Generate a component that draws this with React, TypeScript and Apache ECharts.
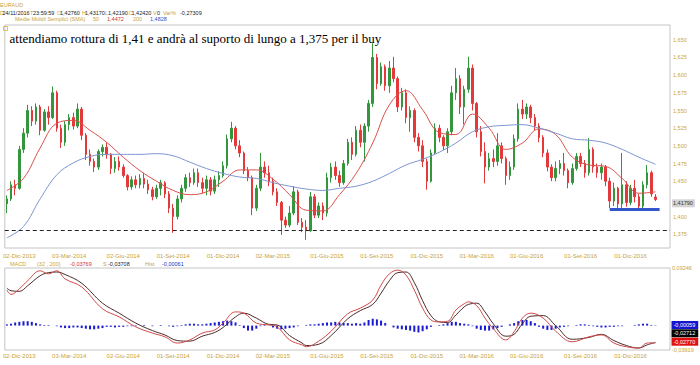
import React, { useEffect, useRef } from 'react';
import * as echarts from 'echarts';

// [open, close, low, high]
const candles: number[][] = [
  [1.418,1.425,1.405,1.430],[1.425,1.445,1.422,1.450],[1.445,1.440,1.430,1.452],[1.440,1.495,1.438,1.500],
  [1.495,1.518,1.490,1.525],[1.518,1.550,1.512,1.558],[1.550,1.535,1.528,1.556],[1.535,1.555,1.530,1.560],
  [1.555,1.522,1.515,1.558],[1.522,1.548,1.520,1.552],[1.548,1.540,1.530,1.556],[1.540,1.575,1.538,1.584],
  [1.575,1.525,1.520,1.578],[1.525,1.505,1.497,1.530],[1.505,1.530,1.500,1.535],[1.530,1.540,1.522,1.545],
  [1.540,1.528,1.523,1.547],[1.528,1.552,1.525,1.560],[1.552,1.515,1.508,1.555],[1.515,1.488,1.480,1.518],
  [1.488,1.478,1.472,1.495],[1.478,1.470,1.463,1.482],[1.470,1.492,1.466,1.495],[1.492,1.498,1.485,1.502],
  [1.498,1.488,1.482,1.505],[1.488,1.468,1.460,1.490],[1.468,1.478,1.462,1.484],[1.478,1.470,1.465,1.485],
  [1.470,1.458,1.455,1.474],[1.458,1.442,1.437,1.460],[1.442,1.452,1.438,1.457],[1.452,1.445,1.440,1.458],
  [1.445,1.454,1.440,1.460],[1.454,1.446,1.440,1.462],[1.446,1.438,1.432,1.452],[1.438,1.428,1.423,1.442],
  [1.428,1.440,1.425,1.445],[1.440,1.448,1.430,1.452],[1.448,1.432,1.426,1.450],[1.432,1.412,1.405,1.436],
  [1.412,1.400,1.377,1.418],[1.400,1.425,1.396,1.430],[1.425,1.440,1.420,1.445],[1.440,1.455,1.435,1.460],
  [1.455,1.448,1.442,1.462],[1.448,1.462,1.445,1.468],[1.462,1.448,1.442,1.468],[1.448,1.440,1.433,1.455],
  [1.440,1.452,1.430,1.458],[1.452,1.436,1.430,1.456],[1.436,1.452,1.432,1.458],[1.452,1.458,1.442,1.464],
  [1.458,1.472,1.455,1.478],[1.472,1.510,1.468,1.516],[1.510,1.525,1.505,1.534],[1.525,1.500,1.495,1.528],
  [1.500,1.490,1.484,1.508],[1.490,1.465,1.460,1.492],[1.465,1.455,1.450,1.470],[1.455,1.412,1.402,1.458],
  [1.412,1.440,1.408,1.445],[1.440,1.470,1.436,1.490],[1.470,1.462,1.455,1.478],[1.462,1.450,1.443,1.472],
  [1.450,1.435,1.430,1.455],[1.435,1.420,1.415,1.440],[1.420,1.395,1.374,1.422],[1.395,1.388,1.384,1.400],
  [1.388,1.405,1.385,1.415],[1.405,1.435,1.402,1.443],[1.435,1.392,1.388,1.438],[1.392,1.385,1.378,1.398],
  [1.385,1.380,1.367,1.395],[1.380,1.428,1.378,1.435],[1.428,1.402,1.398,1.432],[1.402,1.415,1.398,1.420],
  [1.415,1.405,1.395,1.420],[1.405,1.455,1.400,1.462],[1.455,1.470,1.448,1.476],[1.470,1.458,1.452,1.478],
  [1.458,1.448,1.442,1.465],[1.448,1.475,1.445,1.480],[1.475,1.505,1.472,1.510],[1.505,1.488,1.480,1.512],
  [1.488,1.522,1.485,1.528],[1.522,1.505,1.498,1.530],[1.505,1.528,1.478,1.532],[1.528,1.560,1.520,1.565],
  [1.560,1.625,1.555,1.645],[1.625,1.588,1.580,1.630],[1.588,1.612,1.585,1.618],[1.612,1.585,1.578,1.615],
  [1.585,1.610,1.575,1.620],[1.610,1.595,1.590,1.626],[1.595,1.555,1.548,1.598],[1.555,1.575,1.550,1.582],
  [1.575,1.540,1.532,1.580],[1.540,1.550,1.520,1.556],[1.550,1.512,1.505,1.553],[1.512,1.500,1.492,1.518],
  [1.500,1.478,1.470,1.508],[1.478,1.450,1.438,1.482],[1.450,1.490,1.448,1.495],[1.490,1.525,1.488,1.532],
  [1.525,1.512,1.505,1.530],[1.512,1.500,1.494,1.515],[1.500,1.520,1.490,1.525],[1.520,1.575,1.515,1.585],
  [1.575,1.595,1.565,1.610],[1.595,1.555,1.545,1.600],[1.555,1.580,1.530,1.585],[1.580,1.610,1.575,1.626],
  [1.610,1.560,1.550,1.615],[1.560,1.520,1.512,1.562],[1.520,1.492,1.485,1.528],[1.492,1.470,1.447,1.505],
  [1.470,1.482,1.465,1.490],[1.482,1.478,1.470,1.495],[1.478,1.500,1.472,1.518],[1.500,1.482,1.475,1.505],
  [1.482,1.458,1.445,1.485],[1.458,1.470,1.452,1.478],[1.470,1.510,1.466,1.516],[1.510,1.552,1.506,1.560],
  [1.552,1.545,1.538,1.565],[1.545,1.555,1.538,1.560],[1.555,1.540,1.532,1.558],[1.540,1.528,1.522,1.545],
  [1.528,1.512,1.505,1.532],[1.512,1.490,1.484,1.515],[1.490,1.470,1.464,1.495],[1.470,1.455,1.450,1.474],
  [1.455,1.468,1.450,1.478],[1.468,1.475,1.460,1.480],[1.475,1.465,1.458,1.490],[1.465,1.448,1.440,1.468],
  [1.448,1.468,1.445,1.475],[1.468,1.485,1.465,1.490],[1.485,1.475,1.470,1.490],[1.475,1.462,1.455,1.480],
  [1.462,1.495,1.458,1.511],[1.495,1.470,1.462,1.498],[1.470,1.462,1.455,1.475],[1.462,1.470,1.452,1.475],
  [1.470,1.450,1.443,1.473],[1.450,1.422,1.412,1.455],[1.422,1.440,1.415,1.448],[1.440,1.418,1.411,1.442],
  [1.418,1.445,1.410,1.490],[1.445,1.420,1.414,1.450],[1.420,1.440,1.416,1.445],[1.440,1.428,1.420,1.452],
  [1.428,1.415,1.410,1.432],[1.415,1.445,1.412,1.450],[1.445,1.462,1.440,1.473],[1.462,1.432,1.428,1.465],
  [1.4276,1.4242,1.4219,1.4317],
];

// [candle index, value]
const sma50: number[][] = [
  [0,1.437],[4,1.454],[8,1.497],[12,1.532],[16,1.536],[20,1.522],[24,1.505],[28,1.484],[32,1.465],
  [36,1.450],[40,1.437],[44,1.431],[48,1.435],[52,1.450],[56,1.466],[60,1.466],[64,1.453],[68,1.431],
  [72,1.409],[76,1.408],[80,1.431],[84,1.461],[88,1.504],[92,1.558],[96,1.578],[100,1.551],[104,1.519],
  [108,1.516],[112,1.545],[116,1.525],[120,1.495],[124,1.504],[128,1.524],[132,1.516],[136,1.484],
  [140,1.473],[144,1.471],[148,1.454],[152,1.433],[156,1.435],
];
const sma200: number[][] = [
  [0,1.370],[4,1.386],[8,1.425],[12,1.459],[16,1.476],[20,1.485],[24,1.488],[28,1.488],[32,1.488],
  [36,1.489],[40,1.486],[44,1.477],[48,1.468],[52,1.461],[56,1.456],[60,1.454],[64,1.448],[68,1.443],
  [72,1.439],[76,1.437],[80,1.440],[84,1.443],[88,1.450],[92,1.461],[96,1.473],[100,1.481],[104,1.491],
  [108,1.504],[112,1.520],[116,1.527],[120,1.529],[124,1.530],[128,1.525],[132,1.518],[136,1.510],
  [140,1.508],[144,1.504],[148,1.495],[152,1.484],[156,1.474],
];
const macdLine: number[][] = [
  [0,0.057],[1,0.050],[3,0.059],[5,0.072],[8,0.088],[10,0.083],[12,0.088],[14,0.075],[18,0.062],[23,0.027],
  [27,0.014],[31,-0.002],[35,-0.012],[38,-0.018],[41,-0.028],[44,-0.023],[47,-0.012],[50,-0.007],[52,0.004],
  [55,0.022],[57,0.020],[60,0.004],[63,0.001],[65,-0.002],[68,-0.023],[71,-0.031],[72,-0.034],[75,-0.025],
  [78,-0.009],[82,0.019],[85,0.028],[88,0.041],[90,0.065],[92,0.083],[94,0.089],[96,0.081],[98,0.057],
  [100,0.028],[102,0.009],[104,0.006],[106,0.007],[108,0.025],[110,0.035],[111,0.038],[113,0.032],[115,0.012],
  [117,-0.005],[120,-0.023],[122,-0.010],[124,0.012],[126,0.020],[129,0.012],[132,-0.009],[136,-0.026],
  [140,-0.018],[143,-0.015],[146,-0.028],[149,-0.034],[152,-0.036],[154,-0.028],[156,-0.0277],
];
const signalLine: number[][] = [
  [0,0.060],[1,0.056],[3,0.055],[5,0.064],[8,0.080],[10,0.085],[12,0.086],[14,0.082],[18,0.068],[23,0.036],
  [27,0.020],[31,0.004],[35,-0.008],[38,-0.015],[41,-0.024],[44,-0.025],[47,-0.017],[50,-0.011],[52,-0.003],
  [55,0.014],[57,0.020],[60,0.012],[63,0.002],[65,0.001],[68,-0.016],[71,-0.028],[72,-0.032],[75,-0.030],
  [78,-0.016],[82,0.011],[85,0.024],[88,0.034],[90,0.052],[92,0.072],[94,0.085],[96,0.086],[98,0.069],
  [100,0.040],[102,0.016],[104,0.006],[106,0.005],[108,0.017],[110,0.030],[111,0.034],[113,0.036],[115,0.022],
  [117,0.003],[120,-0.017],[122,-0.014],[124,0.003],[126,0.015],[129,0.016],[132,0.000],[136,-0.022],
  [140,-0.019],[143,-0.014],[146,-0.024],[149,-0.032],[152,-0.036],[154,-0.031],[156,-0.0271],
];
const histogram: number[] = [
  0.002,0.003,0.005,0.006,0.007,0.007,0.006,0.004,0.002,
  0.001,0.001,0,-0.001,
  -0.003,-0.004,-0.004,-0.003,-0.003,
  -0.004,-0.005,-0.006,-0.006,-0.005,-0.004,
  -0.002,-0.002,-0.003,-0.002,-0.002,-0.001,-0.001,-0.001,
  0,0.001,0,-0.001,0,0.001,0,-0.001,-0.002,-0.001,0.001,
  0.002,0.003,0.003,0.002,0.002,0.003,
  0.004,0.005,0.006,0.007,0.008,0.007,0.005,
  0.001,-0.004,-0.008,-0.008,-0.005,
  -0.001,0.001,0,-0.003,
  -0.005,-0.006,-0.005,-0.004,-0.003,
  -0.001,0,0.001,0.002,0.002,0.003,
  0.004,0.005,0.005,0.006,0.005,0.004,0.004,
  0.003,0.004,0.003,0.005,
  0.009,0.011,0.010,0.008,0.004,
  0,-0.003,-0.005,-0.006,-0.007,
  -0.008,-0.010,-0.011,-0.009,-0.006,
  -0.002,0,0.001,0.002,
  0.004,0.006,0.006,0.004,0.003,
  0.002,-0.001,
  -0.005,-0.007,-0.008,-0.008,-0.006,-0.004,-0.002,
  0,0.002,0.004,
  0.007,0.009,0.009,0.007,0.004,
  -0.002,-0.005,-0.007,-0.007,-0.005,-0.003,
  -0.002,-0.001,0,0.001,0.002,0.002,
  0.001,-0.001,-0.002,-0.003,-0.003,-0.002,
  -0.002,-0.001,-0.001,0,0,0.001,
  0.002,0.003,0.003,0.001,-0.0006,
];

const xTickIndex = [3, 15, 28, 40, 52, 64, 77, 89, 101, 113, 125, 138, 150];
const xTickText = ['02-Dic-2013', '03-Mar-2014', '02-Giu-2014', '01-Set-2014', '01-Dic-2014', '02-Mar-2015',
  '01-Giu-2015', '01-Set-2015', '01-Dic-2015', '01-Mar-2016', '01-Giu-2016', '01-Set-2016', '01-Dic-2016'];
// 1,425 is hidden behind the last-price tag in the reference
const priceTicks = [1.375, 1.4, 1.45, 1.475, 1.5, 1.525, 1.55, 1.575, 1.6, 1.625, 1.65];
const macdTicks = [0.09246, -0.03919];
const CATEGORY_COUNT = 160;
const supportLevel = 1.41;
const longSupportLevel = 1.375;
const supportFrom = 145;
const supportTo = 157;

const YEL = '#c9a43a';
const SANS = '"Liberation Sans", Arial, sans-serif';
const SERIF = '"Liberation Serif", "Times New Roman", serif';

const txt = (x: number, y: number, text: string, fill: string, size = 5.5, extra: any = {}) => ({
  type: 'text', x, y, silent: true, z: 100,
  style: { text, fill, fontSize: size, fontFamily: SANS, verticalAlign: 'middle', align: 'left', ...extra },
});

export default function App() {
  const ref = useRef<HTMLDivElement>(null);
  useEffect(() => {
    if (!ref.current) return;
    const chart = echarts.init(ref.current, null, { renderer: 'svg' });
    const categories = Array.from({ length: CATEGORY_COUNT }, (_, i) => String(i));
    const tickMap = new Map<number, string>(xTickIndex.map((v, k) => [v, xTickText[k]]));
    const comma = (v: number, d: number) => v.toFixed(d).replace('.', ',');

    const xAxisFor = (g: number) => ({
      type: 'category', gridIndex: g, data: categories, boundaryGap: true,
      axisLine: { show: false }, axisTick: { show: false }, splitLine: { show: false },
      axisLabel: {
        interval: (i: number) => tickMap.has(i),
        formatter: (v: string) => tickMap.get(Number(v)) || '',
        color: YEL, fontSize: 6, fontFamily: SANS, margin: g === 0 ? 5 : 3,
      },
    });

    const option: any = {
      animation: false,
      backgroundColor: '#ffffff',
      grid: [
        { left: 3, right: 30, top: 25, height: 223, show: true, borderColor: '#c4c4c4', borderWidth: 1, backgroundColor: '#fff' },
        { left: 3, right: 30, top: 268, height: 82, show: true, borderColor: '#c4c4c4', borderWidth: 1, backgroundColor: '#fff' },
      ],
      xAxis: [xAxisFor(0), xAxisFor(1)],
      yAxis: [
        {
          type: 'value', gridIndex: 0, position: 'right', min: 1.3556, max: 1.6709,
          axisLine: { show: false }, axisTick: { show: false }, splitLine: { show: false },
          axisLabel: { customValues: priceTicks, formatter: (v: number) => comma(v, 3), color: YEL, fontSize: 5.5, fontFamily: SANS, margin: 3 },
        },
        {
          type: 'value', gridIndex: 1, position: 'right', min: -0.03919, max: 0.09246,
          axisLine: { show: false }, axisTick: { show: false }, splitLine: { show: false },
          axisLabel: { customValues: macdTicks, formatter: (v: number) => comma(v, 5), color: YEL, fontSize: 5.5, fontFamily: SANS, margin: 2 },
        },
      ],
      series: [
        {
          type: 'candlestick', xAxisIndex: 0, yAxisIndex: 0, data: candles, barWidth: 2,
          itemStyle: { color: '#34963c', color0: '#e4393a', borderColor: '#34963c', borderColor0: '#e4393a', borderWidth: 1 },
          markLine: {
            silent: true, symbol: ['none', 'none'], label: { show: false },
            data: [
              { yAxis: longSupportLevel, lineStyle: { type: [4, 3], color: '#222', width: 1 } },
              [
                { coord: [supportFrom, supportLevel], lineStyle: { type: 'solid', color: '#3355cc', width: 3 } },
                { coord: [supportTo, supportLevel] },
              ],
            ],
          },
        },
        { type: 'line', xAxisIndex: 0, yAxisIndex: 0, data: sma50, smooth: 0.4, showSymbol: false, lineStyle: { color: '#d9504c', width: 1 } },
        { type: 'line', xAxisIndex: 0, yAxisIndex: 0, data: sma200, smooth: 0.4, showSymbol: false, lineStyle: { color: '#7d95cf', width: 1 } },
        { type: 'bar', xAxisIndex: 1, yAxisIndex: 1, data: histogram, barWidth: 2, itemStyle: { color: '#1a1ad2' } },
        { type: 'line', xAxisIndex: 1, yAxisIndex: 1, data: signalLine, smooth: 0.4, showSymbol: false, lineStyle: { color: '#4a2c2c', width: 1 } },
        { type: 'line', xAxisIndex: 1, yAxisIndex: 1, data: macdLine, smooth: 0.4, showSymbol: false, lineStyle: { color: '#d24848', width: 1 } },
      ],
      graphic: [
        txt(0, 5, 'EURAUD', YEL),
        txt(0, 13, 'D', YEL), txt(2.5, 13, '24/11/2016', '#222'),
        txt(30, 13, 'T', YEL), txt(33, 13, '23:59:59', '#222'),
        txt(57, 13, 'O', YEL), txt(60, 13, '1,42760', '#222'),
        txt(82, 13, 'H', YEL), txt(85, 13, '1,43170', '#222'),
        txt(105, 13, 'L', YEL), txt(108, 13, '1,42190', '#222'),
        txt(128.5, 13, 'C', YEL), txt(131.5, 13, '1,42420', '#222'),
        txt(153, 13, 'V', YEL), txt(157, 13, '0', '#222'),
        txt(163, 13, 'Var%', YEL), txt(180, 13, '-0,27309', '#222'),
        txt(15, 19, 'Medie Mobili Semplici (SMA)', YEL),
        txt(93, 19, '50', YEL), txt(107, 19, '1,4472', '#d03030'),
        txt(133, 19, '200', YEL), txt(150, 19, '1,4828', '#3050c0'),
        { type: 'rect', x: 3.5, y: 26.5, shape: { width: 4, height: 4 }, silent: true, z: 100, style: { fill: 'none', stroke: '#e0c060', lineWidth: 1 } },
        {
          type: 'text', x: 9.5, y: 38.5, silent: true, z: 100,
          style: { text: 'attendiamo rottura di 1,41 e andrà al suporto di lungo a 1,375 per il buy', fill: '#000', fontSize: 13, fontFamily: SERIF, verticalAlign: 'middle', align: 'left' },
        },
        txt(672, 203.3, '1,41790', '#333', 5.5, { backgroundColor: '#d4d4d4', padding: [1, 2, 1, 1] }),
        txt(10, 264, 'MACD', YEL), txt(37, 264, '(32 , 200)', YEL),
        txt(70, 264, '-0,03769', '#d03030'), txt(103, 264, 'S', YEL), txt(108, 264, '-0,03708', '#222'),
        txt(145, 264, 'Hist', YEL), txt(162, 264, '-0,00061', '#2030c0'),
        txt(671.5, 325, '-0,00059', '#fff', 5.5, { backgroundColor: '#1515d0', padding: [1, 3, 1, 2] }),
        txt(671.5, 333.3, '-0,02712', '#fff', 5.5, { backgroundColor: '#000', padding: [1, 3, 1, 2] }),
        txt(671.5, 341.7, '-0,02770', '#fff', 5.5, { backgroundColor: '#e01010', padding: [1, 3, 1, 2] }),
      ],
    };
    chart.setOption(option);
    return () => chart.dispose();
  }, []);
  return <div ref={ref} style={{ position: 'absolute', left: 0, top: 0, width: 700, height: 365 }} />;
}
